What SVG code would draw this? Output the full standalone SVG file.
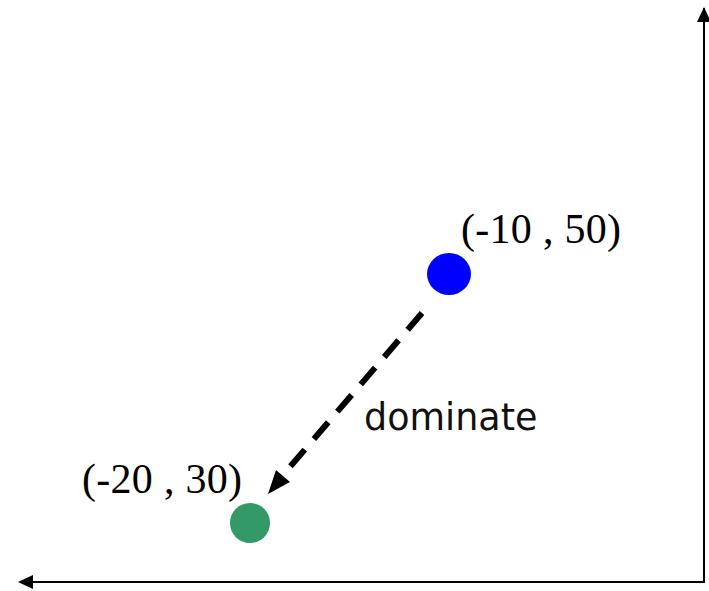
<svg xmlns="http://www.w3.org/2000/svg" width="709" height="591" viewBox="0 0 709 591">
<style>
.coord{font-family:"Liberation Serif","Times New Roman",serif;font-size:42px;fill:#000}
.lbl{font-family:"DejaVu Sans",sans-serif;font-size:36.5px;fill:#111}
.axis{stroke:#000;stroke-width:2;fill:none}
.head{fill:#000}
</style>
<g id="axes">
<path class="axis" d="M704,583 L704,8"/>
<polygon class="head" points="704,7 697,22 711,22"/>
<path class="axis" d="M704,582 L22,582"/>
<polygon class="head" points="18,582 33,575 33,589"/>
</g>
<g id="connectors">
<line x1="422" y1="313" x2="283" y2="475" stroke="#000" stroke-width="6" stroke-dasharray="22,14"/>
<polygon class="head" points="268,494 276,470 290,482"/>
<text class="lbl" x="364" y="430">dominate</text>
</g>
<g id="node-a">
<ellipse cx="449" cy="274" rx="22" ry="21" fill="#0000ff"/>
<text class="coord" x="461" y="243" textLength="160" lengthAdjust="spacing">(-10 , 50)</text>
</g>
<g id="node-b">
<ellipse cx="250" cy="523" rx="20" ry="20" fill="#339966"/>
<text class="coord" x="82" y="493" textLength="160" lengthAdjust="spacing">(-20 , 30)</text>
</g>
</svg>
